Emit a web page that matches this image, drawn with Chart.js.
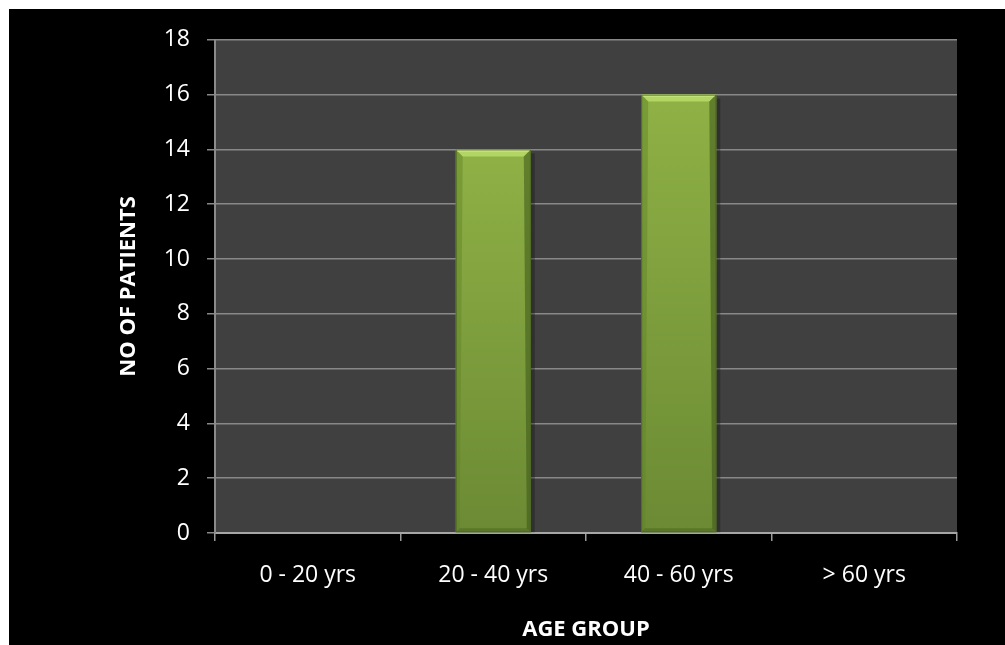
<!DOCTYPE html>
<html>
<head>
<meta charset="utf-8">
<script src="https://cdn.jsdelivr.net/npm/chart.js@4"></script>
<style>
  html, body { margin: 0; padding: 0; background: #fff; }
  #wrap { position: absolute; left: 9px; top: 9px; width: 996px; height: 636px; background: #000; }
</style>
</head>
<body>
<div id="wrap"><canvas id="age-chart"></canvas></div>
<script>
const ageGroups = ["0 - 20 yrs", "20 - 40 yrs", "40 - 60 yrs", "> 60 yrs"];
const patients = [0, 14, 16, 0];
const yTicks = [0, 2, 4, 6, 8, 10, 12, 14, 16, 18];

// dark plot area behind the bars
const plotBg = {
  id: "plotBg",
  beforeDraw(chart) {
    const { ctx, chartArea: a } = chart;
    ctx.save();
    ctx.fillStyle = "#404040";
    ctx.fillRect(a.left, a.top, a.right - a.left, a.bottom - a.top);
    ctx.restore();
  }
};

function poly(ctx, pts, fill) {
  ctx.beginPath();
  ctx.moveTo(pts[0][0], pts[0][1]);
  for (let i = 1; i < pts.length; i++) ctx.lineTo(pts[i][0], pts[i][1]);
  ctx.closePath();
  ctx.fillStyle = fill;
  ctx.fill();
}

// soft shadow + bevelled edges on each bar
const bevel = {
  id: "bevel",
  beforeDatasetsDraw(chart) {
    const ctx = chart.ctx;
    ctx.save();
    chart.getDatasetMeta(0).data.forEach(el => {
      const p = el.getProps(["x", "y", "base", "width"], true);
      if (p.base - p.y < 2) return;
      const r = p.x + p.width / 2;
      ctx.fillStyle = "rgba(20,20,20,0.35)";
      ctx.fillRect(r, p.y + 4, 4, p.base - p.y - 4);
    });
    ctx.restore();
  },
  afterDatasetsDraw(chart) {
    const ctx = chart.ctx;
    ctx.save();
    chart.getDatasetMeta(0).data.forEach(el => {
      const p = el.getProps(["x", "y", "base", "width"], true);
      if (p.base - p.y < 2) return;
      const l = p.x - p.width / 2, r = p.x + p.width / 2, t = p.y, b = p.base;
      const d = 7;
      poly(ctx, [[l, t], [r, t], [r - d, t + d], [l + d, t + d]], "rgba(190,225,110,0.75)");
      poly(ctx, [[l, t], [r, t], [r - 1, t + 2], [l + 1, t + 2]], "rgba(215,240,150,0.9)");
      poly(ctx, [[l, t], [l + d, t + d], [l + 4, b - 4], [l, b]], "rgba(95,130,40,0.45)");
      poly(ctx, [[r, t], [r - d, t + d], [r - 4, b - 4], [r, b]], "rgba(60,85,25,0.55)");
      poly(ctx, [[l, b], [l + 4, b - 4], [r - 4, b - 4], [r, b]], "rgba(70,95,30,0.45)");
      ctx.strokeStyle = "#4f6a24";
      ctx.lineWidth = 1;
      ctx.strokeRect(l + 0.5, t + 0.5, r - l - 1, b - t - 1);
    });
    ctx.restore();
  }
};

// green bar body
function barFill(c) {
  const chart = c.chart;
  const y = chart.scales.y;
  if (!y || c.raw == null) return "#86a63f";
  const top = y.getPixelForValue(c.raw);
  const bottom = y.getPixelForValue(0);
  if (!Number.isFinite(top) || !Number.isFinite(bottom) || bottom - top < 2) return "#86a63f";
  const g = chart.ctx.createLinearGradient(0, top, 0, bottom);
  g.addColorStop(0, "#8fb145");
  g.addColorStop(1, "#6b8a34");
  return g;
}

new Chart(document.getElementById("age-chart"), {
  type: "bar",
  data: {
    labels: ageGroups,
    datasets: [{
      data: patients,
      backgroundColor: barFill,
      borderWidth: 0,
      barPercentage: 0.405,
      categoryPercentage: 1
    }]
  },
  options: {
    responsive: true,
    maintainAspectRatio: false,
    animation: false,
    layout: { padding: { top: 28, right: 48, left: 0, bottom: 0 } },
    plugins: { legend: { display: false }, tooltip: { enabled: false } },
    scales: {
      x: {
        grid: { drawOnChartArea: false, drawTicks: true, tickLength: 8, color: "#9a9a9a", lineWidth: 1.5 },
        border: { color: "#a6a6a6", width: 2 },
        ticks: { color: "#fff", font: { family: "Open Sans", size: 23 }, padding: 21 },
        title: {
          display: true, text: "AGE GROUP", color: "#fff",
          font: { family: "Open Sans", size: 22, weight: "bold" },
          padding: { top: 0, bottom: 2 }
        },
        afterFit(s) { s.height = 112; }
      },
      y: {
        min: 0, max: 18,
        afterBuildTicks(s) { s.ticks = yTicks.map(v => ({ value: v })); },
        grid: { color: "#888", lineWidth: 1.5, tickLength: 8 },
        border: { color: "#8a8a8a", width: 2 },
        ticks: { color: "#fff", font: { family: "Open Sans", size: 23 }, padding: 17 },
        title: {
          display: true, text: "NO OF PATIENTS", color: "#fff",
          font: { family: "Open Sans", size: 22, weight: "bold" },
          padding: { top: 107, bottom: 0 }
        },
        afterFit(s) { s.width = 206; }
      }
    }
  },
  plugins: [plotBg, bevel]
});
</script>
</body>
</html>
